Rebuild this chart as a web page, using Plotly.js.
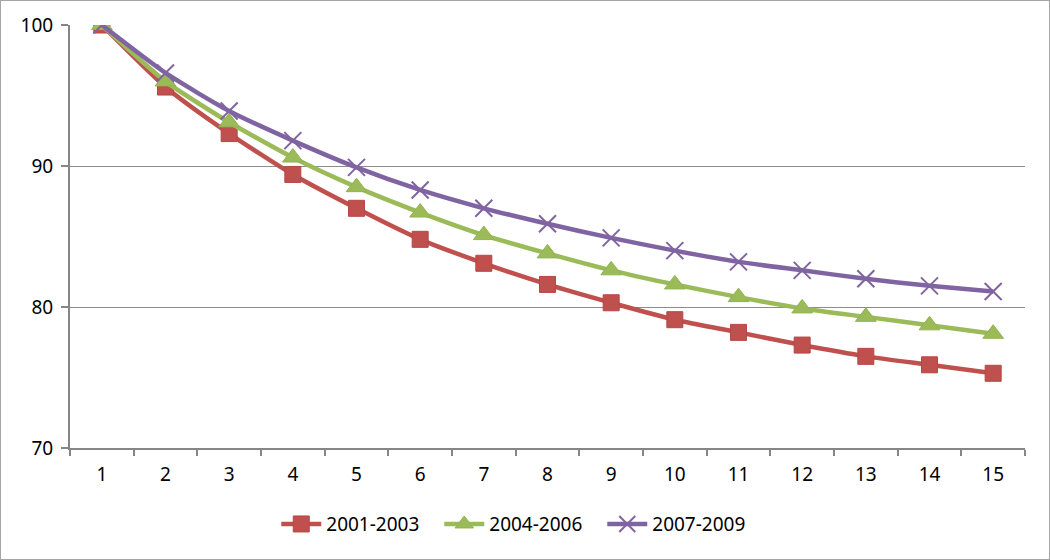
<!DOCTYPE html>
<html>
<head>
<meta charset="utf-8">
<script src="https://cdn.plot.ly/plotly-3.0.1.min.js"></script>
<style>
html,body{margin:0;padding:0;background:#fff;}
#wrap{position:relative;width:1050px;height:560px;}
#chart{width:1050px;height:560px;}
#frame{position:absolute;left:0;top:0;width:1048px;height:558px;border:1px solid #a6a6a6;pointer-events:none;}
</style>
</head>
<body>
<div id="wrap"><div id="chart"></div><div id="frame"></div></div>
<script>
const categories = ['1','2','3','4','5','6','7','8','9','10','11','12','13','14','15'];
const s2001_2003 = [100, 95.6, 92.3, 89.4, 87.0, 84.8, 83.1, 81.6, 80.3, 79.1, 78.2, 77.3, 76.5, 75.9, 75.3];
const s2004_2006 = [100, 96.0, 93.1, 90.6, 88.5, 86.7, 85.1, 83.8, 82.6, 81.6, 80.7, 79.9, 79.3, 78.7, 78.1];
const s2007_2009 = [100, 96.6, 93.9, 91.8, 89.9, 88.3, 87.0, 85.9, 84.9, 84.0, 83.2, 82.6, 82.0, 81.5, 81.1];
const seriesNames = ['2001-2003', '2004-2006', '2007-2009'];

const font = "Noto Sans, Open Sans, sans-serif";
const fs = 19;
const traces = [
  {x: categories, y: s2001_2003, name: seriesNames[0], type: 'scatter', mode: 'lines+markers',
   line: {color: '#C0504D', width: 4.5, shape: 'spline', smoothing: 0.6},
   marker: {symbol: 'square', size: 16, color: '#C0504D', line: {color: '#B54845', width: 1}}},
  {x: categories, y: s2004_2006, name: seriesNames[1], type: 'scatter', mode: 'lines+markers',
   line: {color: '#9BBB59', width: 4.5, shape: 'spline', smoothing: 0.6},
   marker: {symbol: 'triangle-up', size: 18, color: '#9BBB59', line: {color: '#94B353', width: 1}}},
  {x: categories, y: s2007_2009, name: seriesNames[2], type: 'scatter', mode: 'lines+markers',
   line: {color: '#8064A2', width: 4.5, shape: 'spline', smoothing: 0.6},
   marker: {symbol: 'x-thin', size: 17, color: '#8064A2', line: {color: '#8064A2', width: 2}}}
];

const layout = {
  width: 1050, height: 560,
  margin: {l: 70, r: 25, t: 25, b: 112},
  paper_bgcolor: '#ffffff', plot_bgcolor: '#ffffff',
  font: {family: font, size: fs, color: '#000'},
  showlegend: true,
  legend: {orientation: 'h', x: 0.472, xanchor: 'center', y: -0.135, yanchor: 'top',
           font: {family: font, size: fs, color: '#000'}, itemwidth: 40,
           entrywidth: 108, entrywidthmode: 'pixels', tracegroupgap: 0},
  xaxis: {type: 'category', range: [-0.5, 14.5], autorange: false, tickson: 'boundaries',
          ticks: 'outside', ticklen: 6, tickwidth: 2,
          tickcolor: '#868686', showline: true, linecolor: '#868686', linewidth: 2,
          showgrid: false, zeroline: false, fixedrange: true, ticklabelstandoff: 8,
          tickfont: {family: font, size: fs, color: '#000'}},
  yaxis: {range: [70, 100], autorange: false, tickvals: [70, 80, 90, 100], ticks: 'outside', ticklen: 7, tickwidth: 2,
          tickcolor: '#868686', showline: true, linecolor: '#868686', linewidth: 2,
          showgrid: true, gridcolor: '#8c8c8c', gridwidth: 1, zeroline: false,
          tickfont: {family: font, size: fs, color: '#000'}, ticklabelstandoff: 4}
};

Plotly.newPlot('chart', traces, layout, {displayModeBar: false, staticPlot: true});
</script>
</body>
</html>
